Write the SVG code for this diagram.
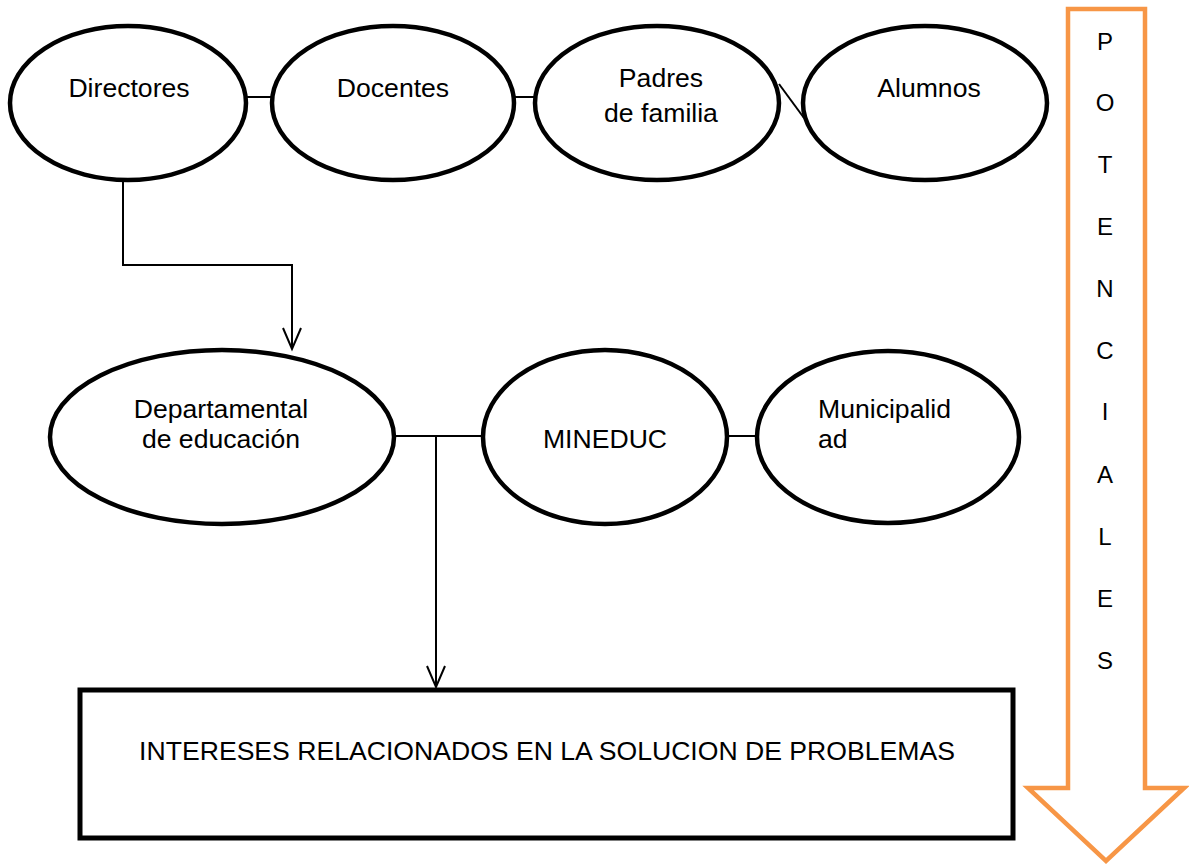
<svg xmlns="http://www.w3.org/2000/svg" width="1189" height="865" viewBox="0 0 1189 865">
<style>
.node{fill:#fff;stroke:#000;stroke-width:4.5}
.t{font-family:"Liberation Sans",Arial,sans-serif;font-size:26.6px;fill:#000}
.c{fill:none;stroke:#000;stroke-width:2}
.ah{fill:none;stroke:#000;stroke-width:2}
.v{font-family:"Liberation Sans",Arial,sans-serif;font-size:24px;fill:#000;text-anchor:middle}
</style>
<rect width="1189" height="865" fill="#fff"/>
<g id="connectors">
<line class="c" x1="247" y1="97" x2="272" y2="97"/>
<line class="c" x1="515" y1="97" x2="535" y2="97"/>
<line class="c" x1="779" y1="84" x2="804" y2="118"/>
<polyline class="c" points="123,180 123,265 292,265 292,349"/>
<polyline class="ah" points="283,328 292,349 301,328"/>
<line class="c" x1="395" y1="436" x2="483" y2="436"/>
<line class="c" x1="436" y1="436" x2="436" y2="687"/>
<polyline class="ah" points="427,666 436,687 445,666"/>
<line class="c" x1="727" y1="436" x2="757" y2="436"/>
</g>
<g id="directores">
<ellipse class="node" cx="128" cy="103" rx="118" ry="77"/>
<text class="t" x="129" y="97" text-anchor="middle">Directores</text>
</g>
<g id="docentes">
<ellipse class="node" cx="393" cy="103" rx="121" ry="77"/>
<text class="t" x="393" y="97" text-anchor="middle">Docentes</text>
</g>
<g id="padres">
<ellipse class="node" cx="657" cy="103" rx="122" ry="77"/>
<text class="t" x="661" y="87" text-anchor="middle">Padres</text>
<text class="t" x="661" y="122" text-anchor="middle">de familia</text>
</g>
<g id="alumnos">
<ellipse class="node" cx="925" cy="103" rx="122" ry="77"/>
<text class="t" x="929" y="97" text-anchor="middle">Alumnos</text>
</g>
<g id="departamental">
<ellipse class="node" cx="222" cy="437" rx="172" ry="87"/>
<text class="t" x="221" y="418" text-anchor="middle">Departamental</text>
<text class="t" x="221" y="448" text-anchor="middle">de educación</text>
</g>
<g id="mineduc">
<ellipse class="node" cx="605" cy="437" rx="122" ry="87"/>
<text class="t" x="605" y="448" text-anchor="middle">MINEDUC</text>
</g>
<g id="municipalidad">
<ellipse class="node" cx="888" cy="437" rx="131" ry="86"/>
<text class="t" x="818" y="418">Municipalid</text>
<text class="t" x="818" y="448">ad</text>
</g>
<g id="intereses">
<rect x="80" y="690" width="933" height="148" fill="#fff" stroke="#000" stroke-width="5"/>
<text class="t" x="547" y="760" text-anchor="middle">INTERESES RELACIONADOS EN LA SOLUCION DE PROBLEMAS</text>
</g>
<g id="potenciales">
<polygon points="1068,9 1145,9 1145,788 1184,788 1106,861 1028,788 1068,788" fill="#fff" stroke="#F79646" stroke-width="4.5"/>
<text class="v" x="1105" y="50">P</text>
<text class="v" x="1105" y="111">O</text>
<text class="v" x="1105" y="173">T</text>
<text class="v" x="1105" y="235">E</text>
<text class="v" x="1105" y="297">N</text>
<text class="v" x="1105" y="359">C</text>
<text class="v" x="1105" y="420">I</text>
<text class="v" x="1105" y="483">A</text>
<text class="v" x="1105" y="545">L</text>
<text class="v" x="1105" y="607">E</text>
<text class="v" x="1105" y="669">S</text>
</g>
</svg>
